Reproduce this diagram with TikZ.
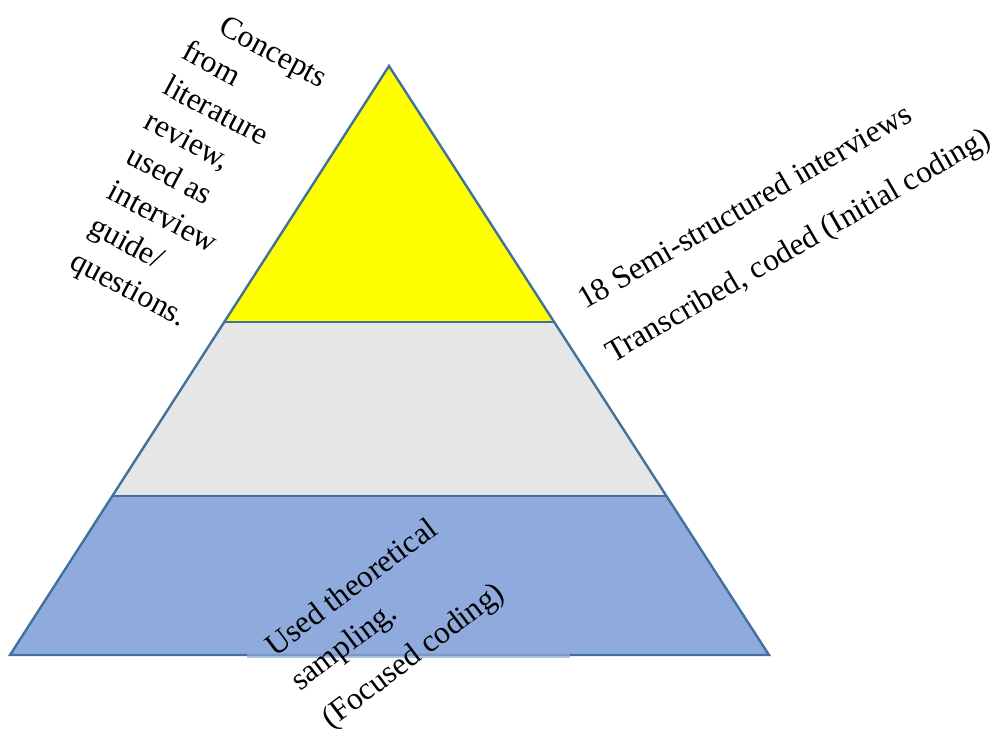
\documentclass[tikz,border=0pt]{standalone}
\usepackage{fontspec}
\newfontfamily\tnr{LiberationSerif}[Extension=.ttf, UprightFont=*-Regular]
\definecolor{edge}{HTML}{41719C}
\definecolor{topfill}{HTML}{FFFF00}
\definecolor{midfill}{HTML}{E6E6E6}
\definecolor{lowfill}{HTML}{8FAADC}
\tikzset{
  lbl/.style={inner sep=0pt, outer sep=0pt, font=\tnr\fontsize{31.5}{37}\selectfont, anchor=base west},
  outline/.style={draw=edge, line width=2.4pt, line join=miter}
}
\begin{document}
\begin{tikzpicture}[x=1pt,y=-1pt]
\useasboundingbox (0,0) rectangle (1005,738);
% triangle geometry
\coordinate (apex) at (389,66);
\coordinate (bl) at (10,655);
\coordinate (br) at (769,655);
\coordinate (ml) at (224.3,322);
\coordinate (mr) at (554.0,322);
\coordinate (ll) at (112.3,496);
\coordinate (lr) at (666.4,496);
% fills
\fill[topfill] (apex) -- (ml) -- (mr) -- cycle;
\fill[midfill] (ml) -- (ll) -- (lr) -- (mr) -- cycle;
\fill[lowfill] (ll) -- (bl) -- (br) -- (lr) -- cycle;
% outlines
\draw[outline] (apex) -- (bl) -- (br) -- cycle;
\draw[outline] (ml) -- (mr);
\draw[outline] (ll) -- (lr);
% text box of the lower label
\fill[lowfill, fill opacity=0.7] (247,520) rectangle (570,657.5);
% left label
\node[lbl, rotate=-28] (c1) at (217,33) {Concepts};
\node[lbl, rotate=-28] (c2) at (180.0,58.0) {from};
\node[lbl, rotate=-28] (c3) at (161.4,92.9) {literature};
\node[lbl, rotate=-28] (c4) at (142.9,127.7) {review,};
\node[lbl, rotate=-28] (c5) at (124.3,162.6) {used as};
\node[lbl, rotate=-28] (c6) at (105.8,197.5) {interview};
\node[lbl, rotate=-28] (c7) at (87.3,232.4) {guide/};
\node[lbl, rotate=-28] (c8) at (68.7,267.3) {questions.};
% right label
\node[lbl, rotate=30] (r1) at (585,310) {18 Semi-structured interviews};
\node[lbl, rotate=30] (r2) at (613,363) {Transcribed, coded (Initial coding)};
% bottom label
\node[lbl, rotate=37] (b1) at (275,657) {Used theoretical};
\node[lbl, rotate=37] (b2) at (300,691) {sampling.};
\node[lbl, rotate=37] (b3) at (331,729) {(Focused coding)};
\end{tikzpicture}
\end{document}
